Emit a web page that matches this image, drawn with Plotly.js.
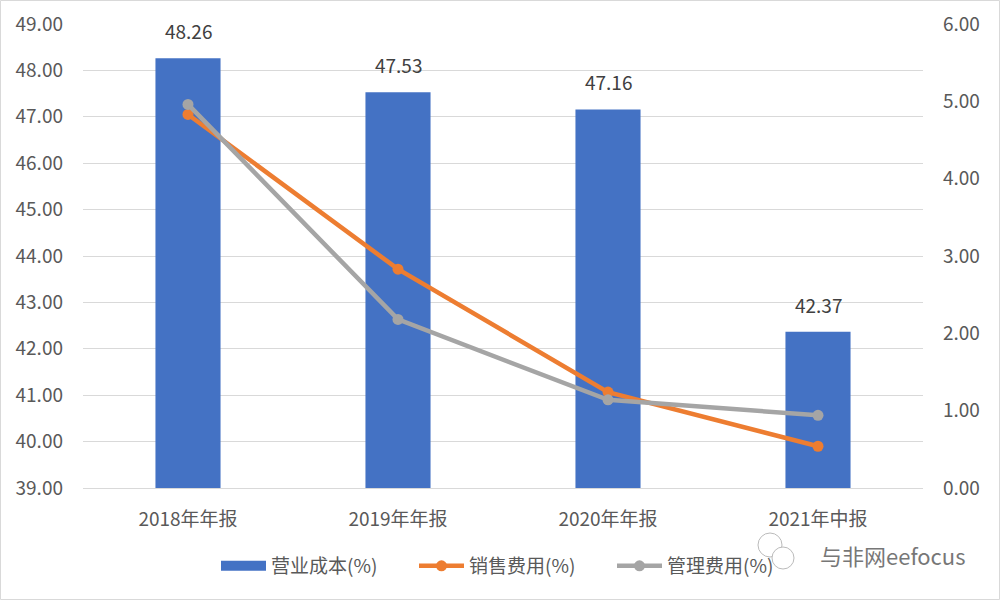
<!DOCTYPE html>
<html>
<head>
<meta charset="utf-8">
<script src="https://cdn.plot.ly/plotly-3.0.1.min.js"></script>
<style>
  html, body { margin: 0; padding: 0; background: #fff; }
  #chart { width: 1001px; height: 600px; }
</style>
</head>
<body>
<div id="chart"></div>
<script>
// categories and values
var periods = ['2018年年报', '2019年年报', '2020年年报', '2021年中报']
var cost_pct = [48.26, 47.53, 47.16, 42.37]      // 营业成本(%), left axis
var selling_pct = [4.83, 2.83, 1.24, 0.54]        // 销售费用(%), right axis
var admin_pct = [4.96, 2.18, 1.14, 0.94]          // 管理费用(%), right axis
var left_ticks = [39, 40, 41, 42, 43, 44, 45, 46, 47, 48, 49]
var right_ticks = [0, 1, 2, 3, 4, 5, 6]

var font_family = '"Noto Sans CJK SC", "Noto Sans", sans-serif'
var text_grey = '#595959'

var data = [
  {
    name: '营业成本(%)',
    x: periods,
    y: cost_pct,
    type: 'bar',
    width: 0.31,
    marker: {color: '#4472C4'},
    showlegend: false,
    yaxis: 'y'
  },
  // legend stand-in so the bar gets a wide swatch like the original
  {
    name: '营业成本(%)',
    x: [null],
    y: [null],
    type: 'scatter',
    mode: 'lines',
    line: {color: '#4472C4', width: 12},
    yaxis: 'y'
  },
  {
    name: '销售费用(%)',
    x: periods,
    y: selling_pct,
    type: 'scatter',
    mode: 'lines+markers',
    line: {color: '#ED7D31', width: 4.5},
    marker: {color: '#ED7D31', size: 11},
    yaxis: 'y2'
  },
  {
    name: '管理费用(%)',
    x: periods,
    y: admin_pct,
    type: 'scatter',
    mode: 'lines+markers',
    line: {color: '#A5A5A5', width: 4.5},
    marker: {color: '#A5A5A5', size: 11},
    yaxis: 'y2'
  }
]

// value labels above the bars
var bar_labels = periods.map((p, i) => ({
  x: p, y: cost_pct[i], xref: 'x', yref: 'y',
  text: cost_pct[i].toFixed(2),
  showarrow: false,
  yanchor: 'bottom',
  yshift: 12,
  font: {size: 19, color: '#404040'}
}))

// little wechat bubble next to the watermark
function px_to_paper_x(px) { return (px - 83) / 840 }
function px_to_paper_y(py) { return (488 - py) / 464 }
var bubble = (cx, cy, r) => ({
  type: 'circle', xref: 'paper', yref: 'paper',
  x0: px_to_paper_x(cx - r), x1: px_to_paper_x(cx + r),
  y0: px_to_paper_y(cy + r), y1: px_to_paper_y(cy - r),
  fillcolor: '#fff',
  line: {color: '#BBBBBB', width: 1}
})

var layout = {
  width: 1001,
  height: 600,
  margin: {l: 83, r: 78, t: 24, b: 112},
  paper_bgcolor: '#fff',
  plot_bgcolor: '#fff',
  font: {family: font_family, size: 18, color: text_grey},
  showlegend: true,
  legend: {
    orientation: 'h',
    x: px_to_paper_x(216), xanchor: 'left',
    y: px_to_paper_y(566), yanchor: 'middle',
    bgcolor: 'rgba(0,0,0,0)',
    font: {size: 19, color: text_grey},
    itemwidth: 45,
    entrywidth: 138,
    traceorder: 'normal'
  },
  xaxis: {
    type: 'category',
    showgrid: false,
    showline: true,
    linecolor: '#D9D9D9',
    linewidth: 1,
    ticks: '',
    ticklabelstandoff: 14,
    tickfont: {size: 19, color: text_grey},
    fixedrange: true
  },
  yaxis: {
    range: [39, 49],
    tickvals: left_ticks,
    ticktext: left_ticks.map(v => v.toFixed(2)),
    showgrid: true,
    gridcolor: '#D9D9D9',
    gridwidth: 1,
    zeroline: false,
    showline: false,
    ticks: '',
    ticklabelstandoff: 19,
    tickfont: {size: 19, color: text_grey}
  },
  yaxis2: {
    range: [0, 6],
    overlaying: 'y',
    side: 'right',
    tickvals: right_ticks,
    ticktext: right_ticks.map(v => v.toFixed(2)),
    showgrid: false,
    zeroline: false,
    showline: false,
    ticks: '',
    ticklabelstandoff: 19,
    tickfont: {size: 19, color: text_grey}
  },
  annotations: bar_labels.concat([
    {
      text: '与非网eefocus',
      xref: 'paper', yref: 'paper',
      x: px_to_paper_x(968), y: px_to_paper_y(555),
      xanchor: 'right', yanchor: 'middle',
      showarrow: false,
      font: {size: 22, color: '#777777'}
    }
  ]),
  shapes: [
    {
      type: 'rect', xref: 'paper', yref: 'paper',
      x0: px_to_paper_x(0.5), x1: px_to_paper_x(999.5),
      y0: px_to_paper_y(599.5), y1: px_to_paper_y(0.5),
      line: {color: '#D9D9D9', width: 1}
    },
    bubble(770, 545, 12),
    bubble(783, 558, 11)
  ]
}

Plotly.newPlot('chart', data, layout, {displayModeBar: false, staticPlot: true})
</script>
</body>
</html>
